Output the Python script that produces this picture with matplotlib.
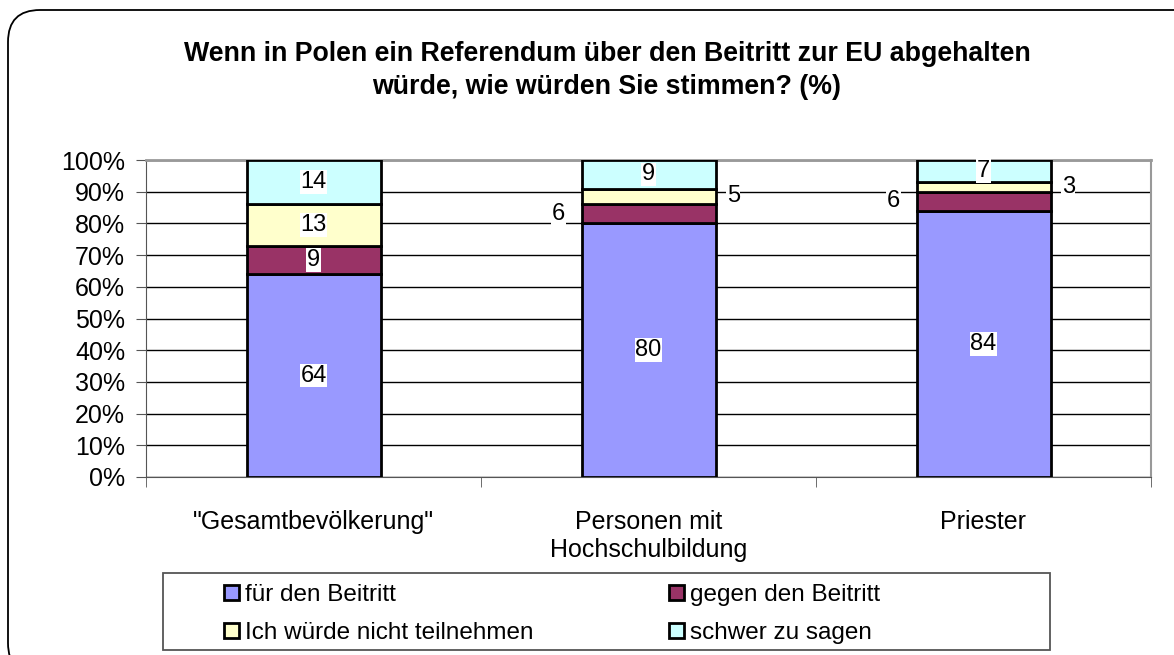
import matplotlib
matplotlib.use('Agg')
import matplotlib.pyplot as plt
from matplotlib.patches import FancyBboxPatch, Patch, Rectangle
from matplotlib.transforms import IdentityTransform

plt.rcParams['font.family'] = ['Liberation Sans', 'DejaVu Sans']

# Daten
gruppen = ['"Gesamtbevölkerung"', 'Personen mit\nHochschulbildung', 'Priester']
antworten = ['für den Beitritt', 'gegen den Beitritt',
             'Ich würde nicht teilnehmen', 'schwer zu sagen']
fuer = [64, 80, 84]
gegen = [9, 6, 6]
nicht_teilnehmen = [13, 5, 3]
schwer = [14, 9, 7]
# Position der Beschriftung: c = mitte, l = links, r = rechts
label_pos = [['c', 'c', 'c', 'c'],
             ['c', 'l', 'r', 'c'],
             ['c', 'l', 'r', 'c']]

farben = ['#9999FF', '#993366', '#FFFFCC', '#CCFFFF']
werte = [fuer, gegen, nicht_teilnehmen, schwer]

fig = plt.figure(figsize=(11.74, 6.55), dpi=100)

# abgerundeter Rahmen um das Diagramm
rahmen = FancyBboxPatch((8, -20), 1200, 655 - 10 + 20,
                        boxstyle='round,pad=0,rounding_size=32',
                        transform=IdentityTransform(), facecolor='none',
                        edgecolor='black', linewidth=1.3, clip_on=False)
fig.patches.append(rahmen)

ax = fig.add_axes([146 / 1174, 1 - 477 / 655, (1151 - 146) / 1174, (477 - 160) / 655])

x = list(range(len(gruppen)))
unten = [0, 0, 0]
for i, (w, f) in enumerate(zip(werte, farben)):
    ax.bar(x, w, width=0.4, bottom=unten, color=f, edgecolor='black',
           linewidth=2, zorder=3, label=antworten[i])
    for j in x:
        mitte = unten[j] + w[j] / 2
        pos = label_pos[j][i]
        box = dict(facecolor='white', edgecolor='none', pad=0.5)
        if pos == 'c':
            ax.annotate(str(w[j]), (j, mitte), ha='center', va='center',
                        fontsize=17, zorder=5, bbox=box)
        elif pos == 'l':
            ax.annotate(str(w[j]), (j - 0.2, mitte), xytext=(-12, 0),
                        textcoords='offset points', ha='right', va='center',
                        fontsize=17, zorder=5, bbox=box)
        else:
            ax.annotate(str(w[j]), (j + 0.2, mitte), xytext=(8, 0),
                        textcoords='offset points', ha='left', va='center',
                        fontsize=17, zorder=5, bbox=box)
    unten = [u + v for u, v in zip(unten, w)]

ax.set_xlim(-0.5, 2.5)
ax.set_ylim(0, 100)
ax.set_yticks(range(0, 101, 10))
ax.set_yticklabels([f'{t}%' for t in range(0, 101, 10)], fontsize=18)
ax.yaxis.grid(True, color='black', linewidth=1, zorder=0)
ax.set_axisbelow(True)

ax.set_xticks(x)
ax.set_xticklabels(gruppen, fontsize=18)
ax.tick_params(axis='x', length=0, pad=24)
ax.set_xticks([-0.5, 0.5, 1.5, 2.5], minor=True)
ax.tick_params(axis='x', which='minor', length=7, direction='out', color='#555555')
ax.tick_params(axis='y', length=7, direction='out', color='#555555', pad=8)

ax.spines['left'].set_color('#555555')
ax.spines['bottom'].set_color('#555555')
ax.spines['top'].set_color('#999999')
ax.spines['right'].set_color('#999999')
ax.spines['top'].set_linewidth(2)
ax.spines['right'].set_linewidth(1.5)

fig.text(607 / 1174, 1 - 70.5 / 655,
         'Wenn in Polen ein Referendum über den Beitritt zur EU abgehalten\n'
         'würde, wie würden Sie stimmen? (%)',
         ha='center', va='center', fontsize=19.3, fontweight='bold',
         linespacing=1.38)

# Legendenrahmen
fig.patches.append(Rectangle((163, 655 - 650), 1050 - 163, 650 - 573,
                             transform=IdentityTransform(), facecolor='white',
                             edgecolor='#555555', linewidth=1.3))

# zeilenweise Reihenfolge wie im Original
reihenfolge = [0, 2, 1, 3]
handles = [Patch(facecolor=farben[k], edgecolor='black', linewidth=2) for k in reihenfolge]
labels = [antworten[k] for k in reihenfolge]
leg = fig.legend(handles, labels, loc='center left',
                 bbox_to_anchor=(224 / 1174, 1 - 614 / 655),
                 ncol=2, fontsize=17.5, frameon=False,
                 handlelength=0.6, handleheight=0.6, handletextpad=0.25,
                 borderaxespad=0, borderpad=0, labelspacing=0.65,
                 columnspacing=5.6)

fig.savefig('out.png', dpi=100)
